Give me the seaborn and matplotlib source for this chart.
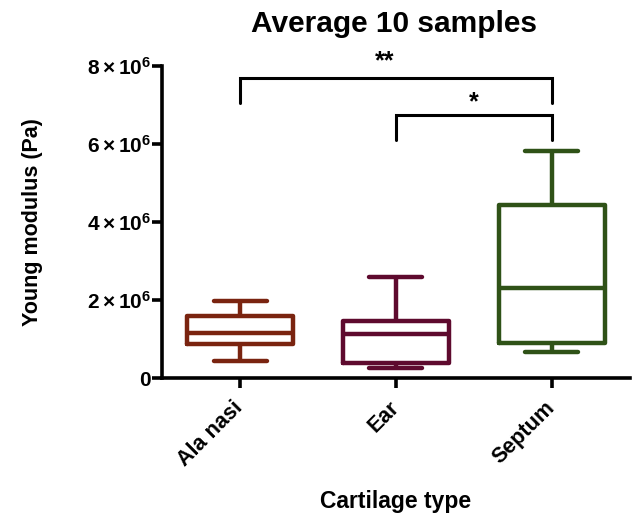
import numpy as np
import pandas as pd
import matplotlib
matplotlib.use("Agg")
import matplotlib.pyplot as plt
import seaborn as sns

# ---- data (five-number summaries, Pa) ----
categories = ["Ala nasi", "Ear", "Septum"]
mins     = [0.44e6, 0.25e6, 0.66e6]
q1s      = [0.86e6, 0.39e6, 0.89e6]
medians  = [1.15e6, 1.12e6, 2.30e6]
q3s      = [1.60e6, 1.46e6, 4.44e6]
maxs     = [1.98e6, 2.58e6, 5.83e6]
colors   = ["#7A2410", "#5E0A2E", "#2F5217"]
yticks   = [0, 2e6, 4e6, 6e6, 8e6]
ytick_labels = ["0", r"$2\times10^{6}$", r"$4\times10^{6}$",
                r"$6\times10^{6}$", r"$8\times10^{6}$"]
title = "Average 10 samples"
xlabel = "Cartilage type"
ylabel = "Young modulus (Pa)"
brackets = [(0, 2, 7.05e6, 7.69e6, "**", 7.95e6), (1, 2, 6.10e6, 6.74e6, "*", 6.90e6)]

rows = []
for c, a, b, m, d, e in zip(categories, mins, q1s, medians, q3s, maxs):
    for v in (a, b, m, d, e):
        rows.append({"type": c, "value": v})
df = pd.DataFrame(rows)

sns.set_style("ticks")
plt.rcParams["font.family"] = ["Liberation Sans", "DejaVu Sans"]
plt.rcParams["font.weight"] = "bold"
plt.rcParams["text.color"] = "black"
plt.rcParams["axes.labelcolor"] = "black"
plt.rcParams["xtick.color"] = "black"
plt.rcParams["ytick.color"] = "black"
plt.rcParams["mathtext.fontset"] = "custom"
plt.rcParams["mathtext.rm"] = "Liberation Sans:bold"
plt.rcParams["mathtext.bf"] = "Liberation Sans:bold"
plt.rcParams["mathtext.it"] = "Liberation Sans:bold"

fig = plt.figure(figsize=(6.33, 5.15), dpi=100)
ax = fig.add_axes([0.256, 0.266, 0.739, 0.606])

palette = dict(zip(categories, colors))
sns.boxplot(data=df, x="type", y="value", hue="type", palette=palette,
            order=categories, hue_order=categories,
            fill=False, whis=(0, 100), width=0.68, linewidth=3.2,
            showfliers=False, legend=False, ax=ax)

ax.set_xlim(-0.5, 2.5)
ax.set_ylim(0, 8e6)
ax.set_yticks(yticks)
ax.set_yticklabels(ytick_labels, fontsize=15, fontweight="bold", color="black")
ax.set_xticks(range(len(categories)))
ax.set_xticklabels(categories, fontsize=15.5, fontweight="bold", color="black",
                   rotation=45, ha="right", va="center", rotation_mode="anchor")

for side in ("top", "right"):
    ax.spines[side].set_visible(False)
for side in ("left", "bottom"):
    ax.spines[side].set_linewidth(2.6)
    ax.spines[side].set_color("black")
ax.tick_params(axis="both", length=7, width=2.6, color="black", pad=1)
ax.tick_params(axis="x", pad=12)

ax.set_xlabel(xlabel, fontsize=16.5, fontweight="bold", color="black")
ax.xaxis.set_label_coords(0.5, -0.36)
ax.set_ylabel(ylabel, fontsize=15.5, fontweight="bold", color="black")
ax.yaxis.set_label_coords(-0.255, 0.5)

fig.text(0.622, 0.938, title, fontsize=21.5, fontweight="bold",
         ha="center", va="baseline", color="black")

for x0, x1, ylow, yhigh, lab, ytxt in brackets:
    ax.plot([x0, x0, x1, x1], [ylow, yhigh, yhigh, ylow], color="black",
            lw=2.2, clip_on=False, solid_joinstyle="miter")
    ax.text((x0 + x1) / 2 - (0.07 if lab == "**" else 0), ytxt, lab,
            ha="center", va="baseline", fontsize=18, fontweight="bold",
            color="black", clip_on=False)

fig.savefig("out.png", dpi=100)
